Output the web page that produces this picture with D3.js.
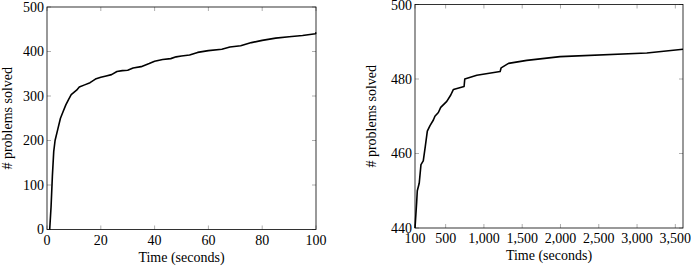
<!DOCTYPE html>
<html>
<head>
<meta charset="utf-8">
<script src="https://cdn.jsdelivr.net/npm/d3@7"></script>
<style>
  body { margin: 0; background: #fff; }
</style>
</head>
<body>
<svg id="chart" width="691" height="267"></svg>
<script>
// left panel: first 100 seconds
const leftTime = [1, 1.5, 2, 2.5, 3, 4, 5, 6, 7, 8, 9, 10, 11, 12, 14, 16, 18, 20, 22, 24, 26, 28, 30, 32, 35, 38, 40, 43, 46, 48, 50, 53, 56, 60, 65, 68, 72, 76, 80, 85, 90, 95, 99.8, 100];
const leftSolved = [0, 50, 120, 175, 200, 225, 250, 265, 280, 292, 303, 308, 313, 320, 325, 330, 338, 342, 345, 348, 355, 357, 358, 363, 366, 373, 378, 382, 384, 388, 390, 392, 398, 402, 405, 410, 413, 420, 425, 430, 433, 436, 440, 443];
const leftXTicks = [0, 20, 40, 60, 80, 100];
const leftYTicks = [0, 100, 200, 300, 400, 500];

// right panel: 100 to 3600 seconds
const rightTime = [100, 122, 130, 155, 178, 208, 235, 261, 296, 340, 360, 405, 436, 515, 567, 602, 741, 750, 907, 1212, 1225, 1321, 1560, 1995, 3127, 3600];
const rightSolved = [440, 447, 450, 452, 457, 458, 462, 466, 467.5, 469, 470, 471, 472.4, 474, 475.7, 477.2, 478, 480, 481, 482, 483, 484.2, 485, 486, 487, 488];
const rightXTicks = [100, 500, 1000, 1500, 2000, 2500, 3000, 3500];
const rightYTicks = [440, 460, 480, 500];

const FONT = "'Liberation Serif', 'Times New Roman', Times, serif";
const svg = d3.select("#chart");

function panel(opt) {
    const x = d3.scaleLinear().domain(opt.xDomain).range([opt.left, opt.right]);
    const y = d3.scaleLinear().domain(opt.yDomain).range([opt.bottom, opt.top]);
    const g = svg.append("g").attr("font-family", FONT).attr("fill", "#000");
    const fmt = d3.format(",");

    // inner ticks on all four sides
    const tickLen = 4;
    g.selectAll(".xt").data(opt.xTicks).enter().append("g").each(function (d) {
        const s = d3.select(this);
        s.append("line").attr("x1", x(d)).attr("x2", x(d)).attr("y1", opt.bottom).attr("y2", opt.bottom - tickLen);
        s.append("line").attr("x1", x(d)).attr("x2", x(d)).attr("y1", opt.top).attr("y2", opt.top + tickLen);
    }).selectAll("line").attr("stroke", "#999").attr("stroke-width", 0.8);
    g.selectAll(".yt").data(opt.yTicks).enter().append("g").each(function (d) {
        const s = d3.select(this);
        s.append("line").attr("x1", opt.left).attr("x2", opt.left + tickLen).attr("y1", y(d)).attr("y2", y(d));
        s.append("line").attr("x1", opt.right).attr("x2", opt.right - tickLen).attr("y1", y(d)).attr("y2", y(d));
    }).selectAll("line").attr("stroke", "#999").attr("stroke-width", 0.8);

    g.append("rect")
        .attr("x", opt.left).attr("y", opt.top)
        .attr("width", opt.right - opt.left).attr("height", opt.bottom - opt.top)
        .attr("fill", "none").attr("stroke", "#000").attr("stroke-width", 0.8);

    g.selectAll(".xl").data(opt.xTicks).enter().append("text")
        .attr("x", d => x(d)).attr("y", opt.bottom + 15)
        .attr("text-anchor", "middle").attr("font-size", 14)
        .text(d => fmt(d));
    g.selectAll(".yl").data(opt.yTicks).enter().append("text")
        .attr("x", opt.left - 3).attr("y", d => Math.max(y(d) + 4.5, 10))
        .attr("text-anchor", "end").attr("font-size", 14)
        .text(d => fmt(d));

    g.append("text")
        .attr("x", (opt.left + opt.right) / 2).attr("y", opt.bottom + 32)
        .attr("text-anchor", "middle").attr("font-size", 14)
        .text("Time (seconds)");
    g.append("text")
        .attr("transform", `translate(${opt.yLabelX},${(opt.top + opt.bottom) / 2}) rotate(-90)`)
        .attr("text-anchor", "middle").attr("font-size", 14)
        .text("# problems solved");

    const pts = opt.xs.map((t, i) => [t, opt.ys[i]]);
    g.append("path")
        .datum(pts)
        .attr("fill", "none").attr("stroke", "#000").attr("stroke-width", 1.6)
        .attr("stroke-linejoin", "round")
        .attr("d", d3.line().x(d => x(d[0])).y(d => y(d[1])));
}

panel({
    left: 47, right: 316, top: 7, bottom: 229.5,
    xDomain: [0, 100], yDomain: [0, 500],
    xTicks: leftXTicks, yTicks: leftYTicks,
    xs: leftTime, ys: leftSolved, yLabelX: 12
});

panel({
    left: 415, right: 683, top: 4.5, bottom: 228,
    xDomain: [100, 3600], yDomain: [440, 500],
    xTicks: rightXTicks, yTicks: rightYTicks,
    xs: rightTime, ys: rightSolved, yLabelX: 376
});
</script>
</body>
</html>
